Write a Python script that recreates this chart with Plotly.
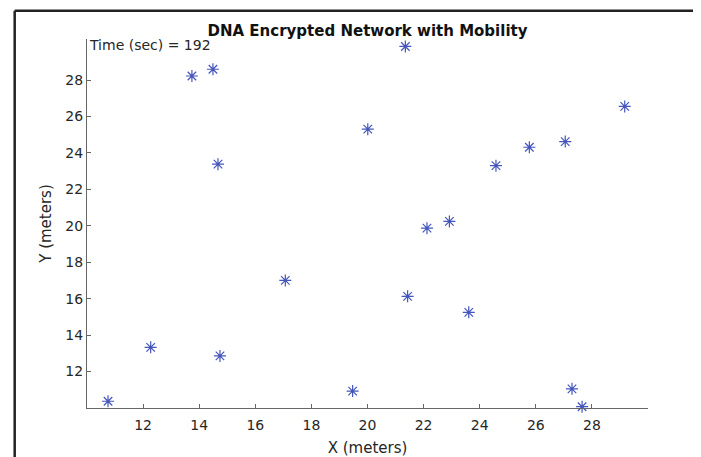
import plotly.graph_objects as go

# Node positions (meters)
x_nodes = [10.75, 12.27, 14.74, 13.74, 14.49, 14.67, 17.07, 19.47, 20.01, 21.35,
           21.43, 22.12, 22.92, 23.61, 24.58, 25.77, 27.05, 27.29, 27.65, 29.17]
y_nodes = [10.37, 13.33, 12.86, 28.22, 28.59, 23.38, 17.00, 10.93, 25.30, 29.84,
           16.13, 19.87, 20.24, 15.25, 23.30, 24.31, 24.62, 11.05, 10.07, 26.55]

x_ticks = [12, 14, 16, 18, 20, 22, 24, 26, 28]
y_ticks = [12, 14, 16, 18, 20, 22, 24, 26, 28]
x_range = [10, 30]
y_range = [10, 30.25]

time_label = "Time (sec) = 192"
time_pos = (10, 29.9)

FONT = "DejaVu Sans"
TXT = "#262626"
AX = "#666666"

fig = go.Figure()
fig.add_trace(go.Scatter(
    x=x_nodes, y=y_nodes, mode="markers",
    marker=dict(symbol="asterisk-open", size=10, color="#4455bb",
                line=dict(color="#4455bb", width=1.2)),
    cliponaxis=False, showlegend=False, hoverinfo="x+y",
))

fig.add_annotation(x=time_pos[0], y=time_pos[1], xref="x", yref="y",
                   text=time_label, showarrow=False, xanchor="left", yanchor="middle",
                   font=dict(family=FONT, size=14, color=TXT))

axis_common = dict(showgrid=False, zeroline=False, showline=True, linecolor=AX, linewidth=1,
                   ticks="inside", ticklen=4, tickcolor=AX, tickwidth=1, automargin=False,
                   tickfont=dict(family=FONT, size=14, color=TXT))

W, H = 693, 449
fig.update_layout(
    width=W, height=H,
    margin=dict(l=79, r=53, t=31, b=49),
    paper_bgcolor="white", plot_bgcolor="white",
    title=dict(text="<b>DNA Encrypted Network with Mobility</b>", x=0.5, xref="paper",
               y=1 - 23 / H, yref="container", xanchor="center", yanchor="middle",
               font=dict(family=FONT, size=15, color="#111111")),
    xaxis=dict(range=x_range, tickvals=x_ticks, ticklabelstandoff=4,
               title=dict(text="X (meters)", standoff=12,
                          font=dict(family=FONT, size=15, color=TXT)), **axis_common),
    yaxis=dict(range=y_range, tickvals=y_ticks, title=dict(text="Y (meters)", standoff=10,
               font=dict(family=FONT, size=15, color=TXT)), **axis_common),
)

# Outer window frame (left, top, right edges)
left, right, top, bottom = -0.1289, 1.0843, 1.0767, -0.25
frame = dict(color="#222222", width=2.5)
fig.add_shape(type="line", xref="paper", yref="paper", x0=left, x1=left, y0=bottom, y1=top, line=frame)
fig.add_shape(type="line", xref="paper", yref="paper", x0=left, x1=right, y0=top, y1=top, line=frame)
fig.add_shape(type="line", xref="paper", yref="paper", x0=right, x1=right, y0=top, y1=bottom, line=frame)

fig.write_html("out.html")
